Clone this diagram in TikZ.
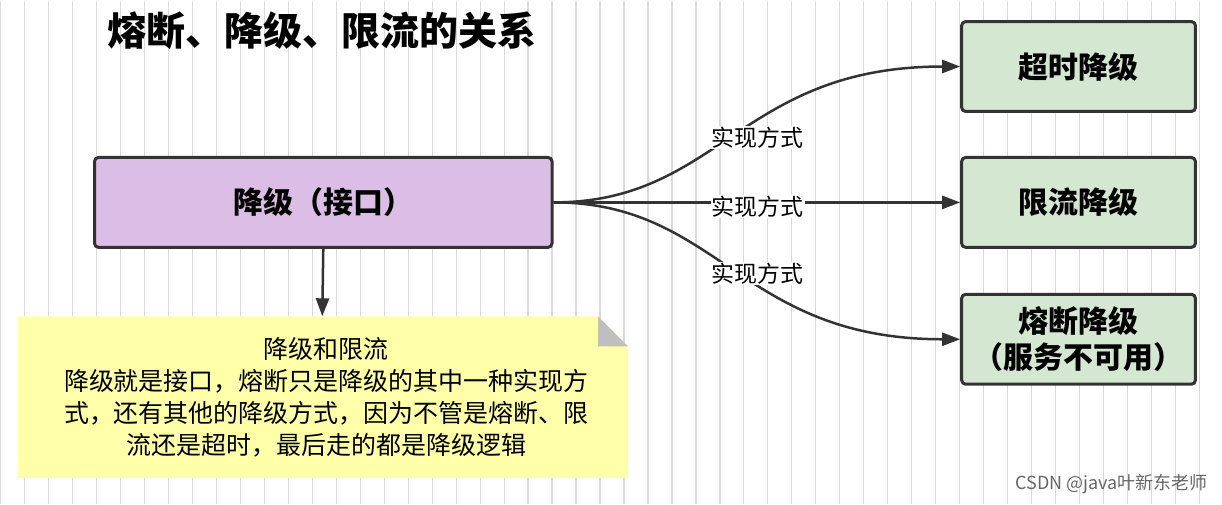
\documentclass[tikz,border=0pt]{standalone}
\usepackage{fontspec}
\setmainfont{Noto Sans CJK SC}
\usetikzlibrary{arrows.meta}
\definecolor{boxpurple}{HTML}{DCBDE6}
\definecolor{boxgreen}{HTML}{D3E7D1}
\definecolor{noteyellow}{HTML}{FFFFAA}
\begin{document}
\begin{tikzpicture}[x=1pt, y=-1pt]
		\tikzset{
			every node/.style = {font=\fontsize{26}{30}\selectfont},
			bigbox/.style = {draw=black!80, line width=3pt, rounded corners=4pt, minimum height=90pt, font=\fontsize{30}{36}\selectfont\bfseries},
			link/.style = {draw=black!80, line width=2.5pt, -{Triangle[length=18pt, width=13pt]}},
			tag/.style = {fill=white, inner sep=1pt, font=\fontsize{23}{26}\selectfont}
		}
		% background grid
		\fill[white] (0, 0) rectangle (1222, 504);
		\draw[black!15, line width=1.2pt] (0, 0) grid[step=24] (1222, 504);
		\useasboundingbox (0, 0) rectangle (1222, 504);
		\node (title) at (322, 30) {\fontsize{39}{42}\selectfont\bfseries 熔断、降级、限流的关系};
		\node[bigbox, fill=boxpurple, minimum width=458pt] (api) at (323, 202) {降级（接口）};
		\node[bigbox, fill=boxgreen, minimum width=234pt] (timeout) at (1079, 66) {超时降级};
		\node[bigbox, fill=boxgreen, minimum width=234pt] (limit) at (1079, 202) {限流降级};
		\node[bigbox, fill=boxgreen, minimum width=234pt, align=center] (fuse) at (1079, 339) {熔断降级\\（服务不可用）};
		\draw[link] (api.east) .. controls (720, 202) and (740, 66) .. (timeout.west);
		\draw[link] (api.east) -- (limit.west);
		\draw[link] (api.east) .. controls (720, 202) and (740, 339) .. (fuse.west);
		\node[tag] (way1) at (758, 137) {实现方式};
		\node[tag] (way2) at (758, 206) {实现方式};
		\node[tag] (way3) at (758, 273) {实现方式};
		% note
		\coordinate (notetop) at (322, 316);
		\fill[noteyellow] (17, 316) -- (598, 316) -- (628, 346) -- (628, 478) -- (17, 478) -- cycle;
		\fill[black!25] (598, 316) -- (628, 346) -- (598, 346) -- cycle;
		\node[align=center, font=\fontsize{25}{32}\selectfont] (note) at (326, 397) {降级和限流\\降级就是接口，熔断只是降级的其中一种实现方\\式，还有其他的降级方式，因为不管是熔断、限\\流还是超时，最后走的都是降级逻辑};
		\draw[link] (api.south) -- (notetop);
		\node[black!60, font=\fontsize{18}{20}\selectfont, anchor=east] (mark) at (1212, 484) {CSDN @java叶新东老师};
	\end{tikzpicture}
\end{document}
